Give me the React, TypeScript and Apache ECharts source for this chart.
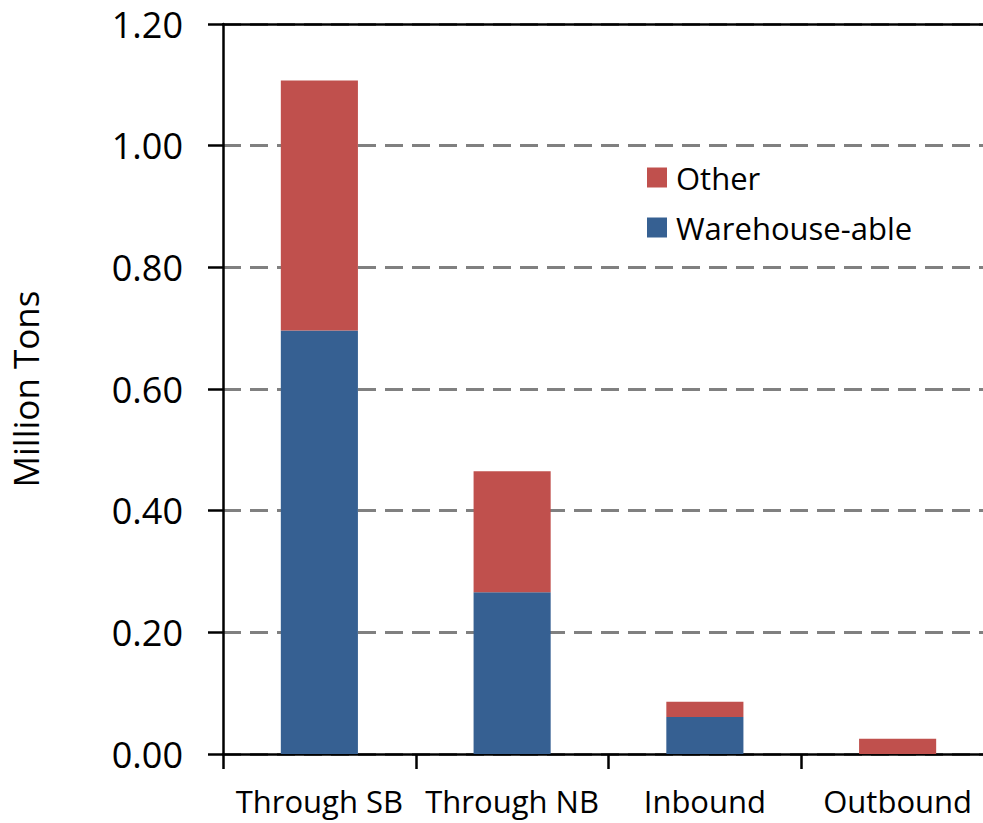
import React, { useEffect, useRef } from "react";
import * as echarts from "echarts";

const categories = ["Through SB", "Through NB", "Inbound", "Outbound"];
const warehouseable = [0.696, 0.266, 0.061, 0.0];
const other = [0.411, 0.199, 0.025, 0.025];
const yTicks = { min: 0, max: 1.2, interval: 0.2 };

const FONT = "'Open Sans', sans-serif";

export default function App() {
  const ref = useRef<HTMLDivElement>(null);
  useEffect(() => {
    if (!ref.current) return;
    const chart = echarts.init(ref.current, undefined, { renderer: "svg" });
    chart.setOption({
      animation: false,
      backgroundColor: "#ffffff",
      textStyle: { fontFamily: FONT, color: "#000" },
      grid: { left: 222, right: 0, top: 24, bottom: 69, containLabel: false },
      legend: {
        orient: "vertical",
        left: 642,
        top: 157,
        itemWidth: 20,
        itemHeight: 20,
        itemGap: 19,
        icon: "rect",
        data: ["Other", "Warehouse-able"],
        textStyle: {
          fontFamily: FONT,
          fontSize: 31,
          color: "#000",
          lineHeight: 30,
          padding: [0, 0, 0, 4],
        },
      },
      xAxis: [
        {
          type: "category",
          data: categories,
          boundaryGap: true,
          axisLine: { show: true, lineStyle: { color: "#000", width: 2.5 } },
          axisTick: {
            show: true,
            length: 15,
            alignWithLabel: false,
            lineStyle: { color: "#000", width: 2.5 },
          },
          axisLabel: {
            interval: 0,
            fontFamily: FONT,
            fontSize: 31,
            color: "#000",
            margin: 31,
          },
          splitLine: { show: false },
        },
        {
          type: "category",
          data: categories,
          position: "top",
          z: 10,
          axisLine: { show: true, lineStyle: { color: "#000", width: 2.5 } },
          axisTick: { show: false },
          axisLabel: { show: false },
          splitLine: { show: false },
        },
      ],
      yAxis: {
        type: "value",
        min: yTicks.min,
        max: yTicks.max,
        interval: yTicks.interval,
        name: "Million Tons",
        nameLocation: "middle",
        nameGap: 180,
        nameRotate: 90,
        nameTextStyle: { fontFamily: FONT, fontSize: 35, color: "#000" },
        axisLine: { show: true, lineStyle: { color: "#000", width: 2.5 } },
        axisTick: {
          show: true,
          inside: false,
          length: 15,
          lineStyle: { color: "#000", width: 2.5 },
        },
        axisLabel: {
          fontFamily: FONT,
          fontSize: 36,
          color: "#000",
          margin: 40,
          formatter: (v: number) => v.toFixed(2),
        },
        splitLine: {
          show: true,
          lineStyle: { color: "#808080", width: 3, type: [18, 9] },
        },
      },
      series: [
        {
          name: "Warehouse-able",
          type: "bar",
          stack: "total",
          barWidth: "40%",
          data: warehouseable,
          itemStyle: { color: "#366092" },
        },
        {
          name: "Other",
          type: "bar",
          stack: "total",
          barWidth: "40%",
          data: other,
          itemStyle: { color: "#C0504D" },
        },
      ],
    });
    return () => chart.dispose();
  }, []);
  return (
    <div
      style={{
        position: "absolute",
        left: 0,
        top: 0,
        width: 983,
        height: 823,
        overflow: "hidden",
      }}
    >
      <div
        ref={ref}
        style={{ position: "absolute", left: 0, top: 0, width: 994, height: 823 }}
      />
    </div>
  );
}
